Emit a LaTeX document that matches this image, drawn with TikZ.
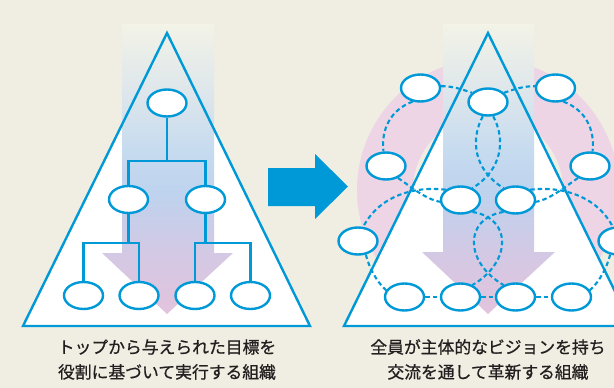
\documentclass[tikz,border=0pt]{standalone}
\usepackage{fontspec}
\newfontfamily\jpfont{Noto Sans CJK JP}[FakeBold=0.8]
\usetikzlibrary{shapes.geometric}
\definecolor{bgc}{RGB}{240,238,226}
\definecolor{blu}{RGB}{0,153,215}
\definecolor{ringc}{RGB}{237,213,230}
\definecolor{txt}{RGB}{35,31,32}
\definecolor{gpk}{RGB}{227,195,220}
\definecolor{glav}{RGB}{210,201,229}
\definecolor{gbl}{RGB}{190,211,238}
\definecolor{gbl2}{RGB}{198,219,239}
\definecolor{gbl3}{RGB}{219,229,236}
\definecolor{gtop}{RGB}{243,243,231}
\pgfdeclareverticalshading{flowshade}{100bp}{color(0bp)=(gpk); color(25bp)=(gpk); color(36bp)=(glav); color(46bp)=(gbl); color(53bp)=(gbl2); color(62bp)=(gbl3); color(75bp)=(gtop); color(100bp)=(gtop)}
\pgfdeclarelayer{bglayer}
\pgfdeclarelayer{edgelayer}
\pgfsetlayers{bglayer,edgelayer,main}
\tikzset{
  ov/.style={ellipse, draw=blu, fill=white, line width=2.4pt, minimum width=39pt, minimum height=27pt, inner sep=0pt},
  tree/.style={draw=blu, line width=2.8pt},
  dsh/.style={draw=blu, line width=2.1pt, dash pattern=on 4.5pt off 3pt},
  tri/.style={draw=blu, line width=2.4pt},
  lbl/.style={text=txt, font=\jpfont\fontsize{16.8}{20}\selectfont, inner sep=0pt, anchor=center}
}
\begin{document}
\begin{tikzpicture}[x=1pt, y=-1pt]
\useasboundingbox (0,0) rectangle (614,388);
\begin{pgfonlayer}{bglayer}
\fill[bgc] (0,0) rectangle (614,388);
% pink ring
\fill[ringc, even odd rule] (488,190) circle (131pt) (488,190) circle (75pt);
% triangle fills
\fill[white] (23,326) -- (167,33) -- (310,326) -- cycle;
\fill[white] (344,326) -- (488,33) -- (632,326) -- cycle;
% gradient arrows
\shade[shading=flowshade] (122,24) -- (214,24) -- (214,253) -- (233,253) -- (167,314) -- (102,253) -- (122,253) -- cycle;
\shade[shading=flowshade] (443,24) -- (534,24) -- (534,252) -- (555,252) -- (488,314) -- (422,252) -- (443,252) -- cycle;
% triangle outlines
\draw[tri] (23,326) -- (167,33) -- (310,326) -- cycle;
\draw[tri] (344,326) -- (488,33) -- (632,326) -- cycle;
% middle arrow
\fill[blu] (268,168) -- (315,168) -- (315,154) -- (348,186.5) -- (315,219) -- (315,206) -- (268,206) -- cycle;
\end{pgfonlayer}

% ---- left hierarchy ----
\node[ov] (L0) at (167,103) {};
\node[ov] (L1a) at (128.5,199.5) {};
\node[ov] (L1b) at (205.5,199.5) {};
\node[ov] (L2a) at (83.5,295.5) {};
\node[ov] (L2b) at (139,295.5) {};
\node[ov] (L2c) at (195,295.5) {};
\node[ov] (L2d) at (250.5,295.5) {};
\coordinate (j0) at (167,161);
\coordinate (j1) at (128.5,243);
\coordinate (j2) at (205.5,243);
\begin{pgfonlayer}{edgelayer}
\draw[tree] (L0.south) -- (j0);
\draw[tree] (L1a.north) -- (L1a.north |- j0) -- (L1b.north |- j0) -- (L1b.north);
\draw[tree] (L1a.south) -- (j1);
\draw[tree] (L2a.north) -- (L2a.north |- j1) -- (L2b.north |- j1) -- (L2b.north);
\draw[tree] (L1b.south) -- (j2);
\draw[tree] (L2c.north) -- (L2c.north |- j2) -- (L2d.north |- j2) -- (L2d.north);
\end{pgfonlayer}

% ---- right network ----
\node[ov] (TC) at (488,102) {};
\node[ov] (TL) at (420.5,88) {};
\node[ov] (TR) at (555.5,88) {};
\node[ov] (ML) at (386,166) {};
\node[ov] (MR) at (590,166) {};
\node[ov] (CL) at (460.5,200) {};
\node[ov] (CR) at (515.5,200) {};
\node[ov] (FL) at (358,241) {};
\node[ov] (FR) at (618,241) {};
\node[ov] (B1) at (404.5,297) {};
\node[ov] (B2) at (460.5,297) {};
\node[ov] (B3) at (515.5,297) {};
\node[ov] (B4) at (571.5,297) {};

\begin{pgfonlayer}{edgelayer}
\draw[dsh] (TL.5) .. controls (452,86) and (461,89) .. (TC.150);
\draw[dsh] (TC.30) .. controls (515,89) and (524,86) .. (TR.175);
\draw[dsh] (TL.240) .. controls (390,110) and (381,130) .. (ML.100);
\draw[dsh] (TR.300) .. controls (586,110) and (595,130) .. (MR.80);
\draw[dsh] (ML.315) .. controls (410,186) and (425,199) .. (CL.185);
\draw[dsh] (MR.225) .. controls (566,186) and (551,199) .. (CR.355);
\draw[dsh] (CL.145) .. controls (415,186) and (380,195) .. (FL.70);
\draw[dsh] (CR.35) .. controls (561,186) and (596,195) .. (FR.110);
\draw[dsh] (FL.300) .. controls (369,268) and (377,282) .. (B1.160);
\draw[dsh] (FR.240) .. controls (607,268) and (599,282) .. (B4.20);
\draw[dsh] (B1.east) -- (B2.west);
\draw[dsh] (B2.east) -- (B3.west);
\draw[dsh] (B3.east) -- (B4.west);
\draw[dsh] (TC.250) .. controls (470,140) and (474,170) .. (CR.135);
\draw[dsh] (TC.290) .. controls (506,140) and (502,170) .. (CL.45);
\draw[dsh] (CL.315) .. controls (512,218) and (512,262) .. (B2.45);
\draw[dsh] (CR.225) .. controls (464,218) and (464,262) .. (B3.135);
\end{pgfonlayer}

% ---- labels ----
\node[lbl] (t1) at (167,347) {トップから与えられた目標を};
\node[lbl] (t2) at (167,372) {役割に基づいて実行する組織};
\node[lbl] (t3) at (488,347) {全員が主体的なビジョンを持ち};
\node[lbl] (t4) at (488,372) {交流を通して革新する組織};
\end{tikzpicture}
\end{document}
